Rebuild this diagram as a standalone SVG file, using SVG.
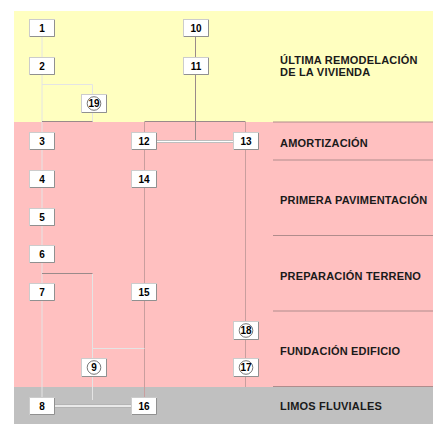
<svg xmlns="http://www.w3.org/2000/svg" width="436" height="425" viewBox="0 0 436 425">
<style>
.bg{stroke:none}
.sep{stroke:#b08c8c;stroke-width:1;fill:none}
.lt{stroke:#e4e4e4;stroke-width:1;fill:none}
.md{stroke:#c99e9e;stroke-width:1;fill:none}
.dk{stroke:#9a8a8a;stroke-width:1;fill:none}
.dbl{stroke:#a8a8a8;stroke-width:3.2;fill:none}
.dblw{stroke:#ffffff;stroke-width:1.4;fill:none}
.box{fill:#ffffff;stroke:#cccccc;stroke-width:1}
.sh{stroke:#909090;stroke-width:1;fill:none}
.num{font-family:"Liberation Sans",Arial,sans-serif;font-size:10px;font-weight:bold;fill:#000;text-anchor:middle}
.circ{fill:none;stroke:#666666;stroke-width:0.9}
.lab{font-family:"Liberation Sans",Arial,sans-serif;font-size:11px;font-weight:bold;fill:#1a1a1a;letter-spacing:0.2px}
</style>
<rect width="436" height="425" fill="#ffffff"/>
<g id="bands">
<rect class="bg" x="14" y="11" width="419" height="111" fill="#ffffc0"/>
<rect class="bg" x="14" y="122" width="419" height="265" fill="#ffc0c0"/>
<rect class="bg" x="14" y="387" width="419" height="37" fill="#c0c0c0"/>
<line class="sep" x1="273" y1="122" x2="433" y2="122"/>
<line class="sep" x1="273" y1="160" x2="433" y2="160"/>
<line class="sep" x1="273" y1="235.5" x2="433" y2="235.5"/>
<line class="sep" x1="273" y1="311" x2="433" y2="311"/>
<line class="sep" x1="273" y1="386.5" x2="433" y2="386.5"/>
<text class="lab" x="280" y="63.5">ÚLTIMA REMODELACIÓN</text>
<text class="lab" x="280" y="75.5">DE LA VIVIENDA</text>
<text class="lab" x="280" y="147">AMORTIZACIÓN</text>
<text class="lab" x="280" y="204">PRIMERA PAVIMENTACIÓN</text>
<text class="lab" x="280" y="280">PREPARACIÓN TERRENO</text>
<text class="lab" x="280" y="355">FUNDACIÓN EDIFICIO</text>
<text class="lab" x="280" y="410">LIMOS FLUVIALES</text>
</g>
<g id="connectors">
<line class="lt" x1="42" y1="36" x2="42" y2="397"/>
<polyline class="lt" points="42,84.5 92.5,84.5 92.5,94"/>
<line class="lt" x1="92.5" y1="113" x2="92.5" y2="122"/>
<line class="dk" x1="42" y1="121.5" x2="92.5" y2="121.5"/>
<line class="dk" x1="195.5" y1="36" x2="195.5" y2="141.5"/>
<line class="dk" x1="144.5" y1="121.5" x2="245.5" y2="121.5"/>
<line class="md" x1="144.5" y1="122" x2="144.5" y2="397"/>
<line class="md" x1="245.5" y1="122" x2="245.5" y2="387"/>
<line class="dk" x1="42" y1="273.5" x2="92.5" y2="273.5"/>
<polyline class="lt" points="92.5,274 92.5,348.5 144.5,348.5"/>
<line class="lt" x1="92.5" y1="348.5" x2="92.5" y2="400"/>
<line class="dbl" x1="157" y1="141.5" x2="233" y2="141.5"/>
<line class="dblw" x1="157" y1="141.5" x2="233" y2="141.5"/>
<line class="dbl" x1="55" y1="406" x2="131" y2="406"/>
<line class="dblw" x1="55" y1="406" x2="131" y2="406"/>
</g>
<g id="n1"><rect class="box" x="29.5" y="19.5" width="25" height="17"/><path class="sh" d="M30,36.5H54.5V20"/><text class="num" x="42" y="31.5">1</text></g>
<g id="n2"><rect class="box" x="29.5" y="57.5" width="25" height="17"/><path class="sh" d="M30,74.5H54.5V58"/><text class="num" x="42" y="69.5">2</text></g>
<g id="n3"><rect class="box" x="29.5" y="132.5" width="25" height="17"/><path class="sh" d="M30,149.5H54.5V133"/><text class="num" x="42" y="144.5">3</text></g>
<g id="n4"><rect class="box" x="29.5" y="170.5" width="25" height="17"/><path class="sh" d="M30,187.5H54.5V171"/><text class="num" x="42" y="182.5">4</text></g>
<g id="n5"><rect class="box" x="29.5" y="208.5" width="25" height="17"/><path class="sh" d="M30,225.5H54.5V209"/><text class="num" x="42" y="220.5">5</text></g>
<g id="n6"><rect class="box" x="29.5" y="245.5" width="25" height="17"/><path class="sh" d="M30,262.5H54.5V246"/><text class="num" x="42" y="257.5">6</text></g>
<g id="n7"><rect class="box" x="29.5" y="283.5" width="25" height="17"/><path class="sh" d="M30,300.5H54.5V284"/><text class="num" x="42" y="295.5">7</text></g>
<g id="n8"><rect class="box" x="29.5" y="397.5" width="25" height="17"/><path class="sh" d="M30,414.5H54.5V398"/><text class="num" x="42" y="409.5">8</text></g>
<g id="n9"><rect class="box" x="81.5" y="358.5" width="25" height="18"/><path class="sh" d="M82,376.5H106.5V359"/><circle class="circ" cx="94" cy="367.5" r="6.8"/><text class="num" x="94" y="371">9</text></g>
<g id="n19"><rect class="box" x="81.5" y="94.5" width="25" height="18"/><path class="sh" d="M82,112.5H106.5V95"/><circle class="circ" cx="94" cy="103.5" r="6.8"/><text class="num" x="94" y="107">19</text></g>
<g id="n10"><rect class="box" x="183.5" y="19.5" width="25" height="17"/><path class="sh" d="M184,36.5H208.5V20"/><text class="num" x="196" y="31.5">10</text></g>
<g id="n11"><rect class="box" x="183.5" y="57.5" width="25" height="17"/><path class="sh" d="M184,74.5H208.5V58"/><text class="num" x="196" y="69.5">11</text></g>
<g id="n12"><rect class="box" x="131.5" y="132.5" width="25" height="17"/><path class="sh" d="M132,149.5H156.5V133"/><text class="num" x="144" y="144.5">12</text></g>
<g id="n14"><rect class="box" x="131.5" y="170.5" width="25" height="17"/><path class="sh" d="M132,187.5H156.5V171"/><text class="num" x="144" y="182.5">14</text></g>
<g id="n15"><rect class="box" x="131.5" y="283.5" width="25" height="17"/><path class="sh" d="M132,300.5H156.5V284"/><text class="num" x="144" y="295.5">15</text></g>
<g id="n16"><rect class="box" x="131.5" y="397.5" width="25" height="17"/><path class="sh" d="M132,414.5H156.5V398"/><text class="num" x="144" y="409.5">16</text></g>
<g id="n13"><rect class="box" x="233.5" y="132.5" width="25" height="17"/><path class="sh" d="M234,149.5H258.5V133"/><text class="num" x="246" y="144.5">13</text></g>
<g id="n18"><rect class="box" x="233.5" y="321.5" width="25" height="18"/><path class="sh" d="M234,339.5H258.5V322"/><circle class="circ" cx="246" cy="330.5" r="6.8"/><text class="num" x="246" y="334">18</text></g>
<g id="n17"><rect class="box" x="233.5" y="358.5" width="25" height="18"/><path class="sh" d="M234,376.5H258.5V359"/><circle class="circ" cx="246" cy="367.5" r="6.8"/><text class="num" x="246" y="371">17</text></g>
</svg>
